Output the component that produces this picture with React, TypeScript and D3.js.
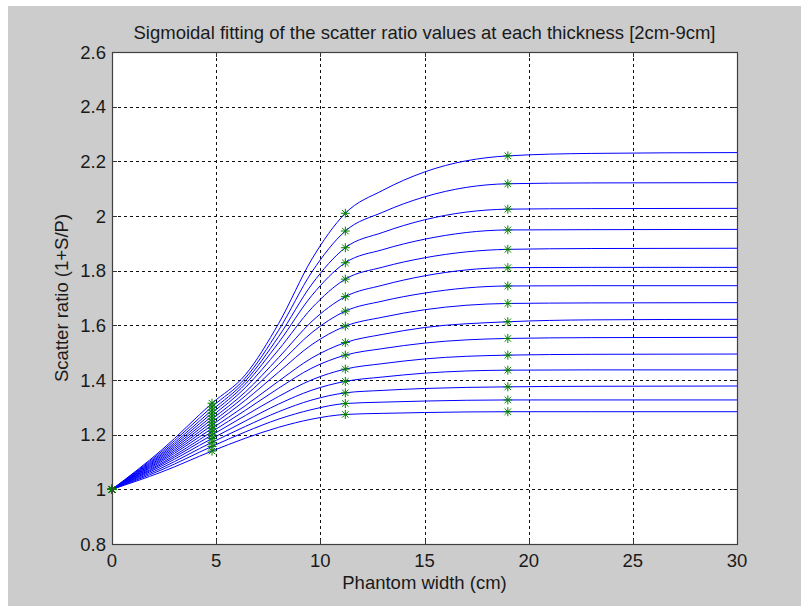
import React from "react";
import * as d3 from "d3";

const TITLE = "Sigmoidal fitting of the scatter ratio values at each thickness [2cm-9cm]";
const X_LABEL = "Phantom width (cm)";
const Y_LABEL = "Scatter ratio (1+S/P)";

const X_TICKS = [0, 5, 10, 15, 20, 25, 30];
const Y_TICKS = [0.8, 1, 1.2, 1.4, 1.6, 1.8, 2, 2.2, 2.4, 2.6];

// phantom widths (cm) at which the fitted curves were read
const WIDTH_SAMPLES = [0, 2.4, 4.8, 6.4, 8, 9.6, 11.2, 13, 15, 19, 23, 30];
// widths of the measured points (star markers)
const MEASURED_WIDTHS = [0, 4.8, 11.2, 19];

// one row per thickness: fitted scatter ratio at WIDTH_SAMPLES
const CURVE_01 = [1, 1.145, 1.315, 1.419, 1.607, 1.843, 2.010, 2.094, 2.161, 2.220, 2.229, 2.232];
const CURVE_02 = [1, 1.139, 1.302, 1.407, 1.582, 1.796, 1.945, 2.014, 2.070, 2.118, 2.121, 2.122];
const CURVE_03 = [1, 1.133, 1.290, 1.396, 1.559, 1.751, 1.884, 1.940, 1.986, 2.025, 2.027, 2.028];
const CURVE_04 = [1, 1.128, 1.279, 1.385, 1.537, 1.710, 1.829, 1.877, 1.915, 1.949, 1.950, 1.951];
const CURVE_05 = [1, 1.123, 1.268, 1.372, 1.511, 1.664, 1.769, 1.813, 1.847, 1.878, 1.881, 1.882];
const CURVE_06 = [1, 1.118, 1.257, 1.356, 1.482, 1.615, 1.705, 1.747, 1.781, 1.811, 1.812, 1.812];
const CURVE_07 = [1, 1.113, 1.246, 1.342, 1.457, 1.574, 1.652, 1.689, 1.718, 1.744, 1.745, 1.745];
const CURVE_08 = [1, 1.108, 1.235, 1.326, 1.429, 1.530, 1.597, 1.630, 1.657, 1.680, 1.682, 1.683];
const CURVE_09 = [1, 1.103, 1.223, 1.306, 1.396, 1.481, 1.537, 1.567, 1.592, 1.613, 1.620, 1.622];
const CURVE_10 = [1, 1.097, 1.211, 1.289, 1.370, 1.444, 1.491, 1.515, 1.535, 1.552, 1.555, 1.556];
const CURVE_11 = [1, 1.092, 1.199, 1.270, 1.340, 1.401, 1.440, 1.460, 1.477, 1.491, 1.494, 1.495];
const CURVE_12 = [1, 1.086, 1.186, 1.250, 1.312, 1.363, 1.395, 1.411, 1.425, 1.436, 1.437, 1.437];
const CURVE_13 = [1, 1.079, 1.172, 1.230, 1.284, 1.327, 1.353, 1.362, 1.369, 1.375, 1.377, 1.378];
const CURVE_14 = [1, 1.072, 1.157, 1.210, 1.257, 1.292, 1.314, 1.319, 1.323, 1.327, 1.327, 1.327];
const CURVE_15 = [1, 1.064, 1.140, 1.187, 1.227, 1.257, 1.274, 1.278, 1.281, 1.284, 1.284, 1.284];

const CURVES = [
  CURVE_01, CURVE_02, CURVE_03, CURVE_04, CURVE_05, CURVE_06, CURVE_07, CURVE_08,
  CURVE_09, CURVE_10, CURVE_11, CURVE_12, CURVE_13, CURVE_14, CURVE_15,
];

const W = 801;
const H = 606;
const M = { left: 112, right: 737, top: 52, bottom: 544 };
const FONT = "'Liberation Sans', Arial, Helvetica, sans-serif";
const FS = 18.5;

function Star({ cx, cy }: { cx: number; cy: number }) {
  const r = 4.5;
  const d = r * 0.72;
  return (
    <g stroke="#008000" strokeWidth={1}>
      <line x1={cx - r} y1={cy} x2={cx + r} y2={cy} />
      <line x1={cx} y1={cy - r} x2={cx} y2={cy + r} />
      <line x1={cx - d} y1={cy - d} x2={cx + d} y2={cy + d} />
      <line x1={cx - d} y1={cy + d} x2={cx + d} y2={cy - d} />
    </g>
  );
}

export default function App() {
  const x = d3.scaleLinear().domain([0, 30]).range([M.left, M.right]);
  const y = d3.scaleLinear().domain([0.8, 2.6]).range([M.bottom, M.top]);

  const line = d3
    .line<number>()
    .x((_, i) => x(WIDTH_SAMPLES[i]))
    .y((v) => y(v))
    .curve(d3.curveMonotoneX);

  const tick = 5;
  const textColor = "#1a1a1a";

  return (
    <svg
      width={W}
      height={H}
      style={{ position: "absolute", left: 0, top: 0 }}
      fontFamily={FONT}
    >
      <rect x={8} y={6} width={W - 8} height={H - 6} fill="#cccccc" />
      <rect
        x={M.left}
        y={M.top}
        width={M.right - M.left}
        height={M.bottom - M.top}
        fill="#ffffff"
      />
      {/* grid */}
      <g stroke="#111" strokeWidth={1} strokeDasharray="3,3">
        {X_TICKS.filter((t) => t > 0 && t < 30).map((t) => (
          <line key={"gx" + t} x1={Math.round(x(t)) + 0.5} x2={Math.round(x(t)) + 0.5} y1={M.top} y2={M.bottom} />
        ))}
        {Y_TICKS.filter((t) => t > 0.8 && t < 2.6).map((t) => (
          <line key={"gy" + t} x1={M.left} x2={M.right} y1={Math.round(y(t)) + 0.5} y2={Math.round(y(t)) + 0.5} />
        ))}
      </g>
      {/* ticks */}
      <g stroke="#333" strokeWidth={1}>
        {X_TICKS.map((t) => (
          <g key={"tx" + t}>
            <line x1={Math.round(x(t)) + 0.5} x2={Math.round(x(t)) + 0.5} y1={M.bottom} y2={M.bottom - tick} />
            <line x1={Math.round(x(t)) + 0.5} x2={Math.round(x(t)) + 0.5} y1={M.top} y2={M.top + tick} />
          </g>
        ))}
        {Y_TICKS.map((t) => (
          <g key={"ty" + t}>
            <line x1={M.left} x2={M.left + tick} y1={Math.round(y(t)) + 0.5} y2={Math.round(y(t)) + 0.5} />
            <line x1={M.right} x2={M.right - tick} y1={Math.round(y(t)) + 0.5} y2={Math.round(y(t)) + 0.5} />
          </g>
        ))}
      </g>
      {/* curves */}
      <g fill="none" stroke="#0000ff" strokeWidth={1}>
        {CURVES.map((c, i) => (
          <path key={"c" + i} d={line(c) || ""} />
        ))}
      </g>
      {/* measured points */}
      <g>
        {CURVES.map((c, i) =>
          MEASURED_WIDTHS.map((w) => (
            <Star key={"s" + i + "-" + w} cx={x(w)} cy={y(c[WIDTH_SAMPLES.indexOf(w)])} />
          ))
        )}
      </g>
      {/* box */}
      <rect
        x={M.left + 0.5}
        y={M.top + 0.5}
        width={M.right - M.left}
        height={M.bottom - M.top}
        fill="none"
        stroke="#404040"
        strokeWidth={1.2}
      />
      {/* tick labels */}
      <g fill={textColor} fontSize={FS}>
        {X_TICKS.map((t) => (
          <text key={"lx" + t} x={x(t)} y={567} textAnchor="middle">
            {String(t)}
          </text>
        ))}
        {Y_TICKS.map((t) => (
          <text key={"ly" + t} x={106} y={y(t) + 6.5} textAnchor="end">
            {String(t)}
          </text>
        ))}
      </g>
      <text x={(M.left + M.right) / 2} y={39} textAnchor="middle" fontSize={FS} fill={textColor}>
        {TITLE}
      </text>
      <text x={(M.left + M.right) / 2} y={589} textAnchor="middle" fontSize={FS} fill={textColor}>
        {X_LABEL}
      </text>
      <text
        transform={`translate(68, ${(M.top + M.bottom) / 2}) rotate(-90)`}
        textAnchor="middle"
        fontSize={FS}
        fill={textColor}
      >
        {Y_LABEL}
      </text>
    </svg>
  );
}
